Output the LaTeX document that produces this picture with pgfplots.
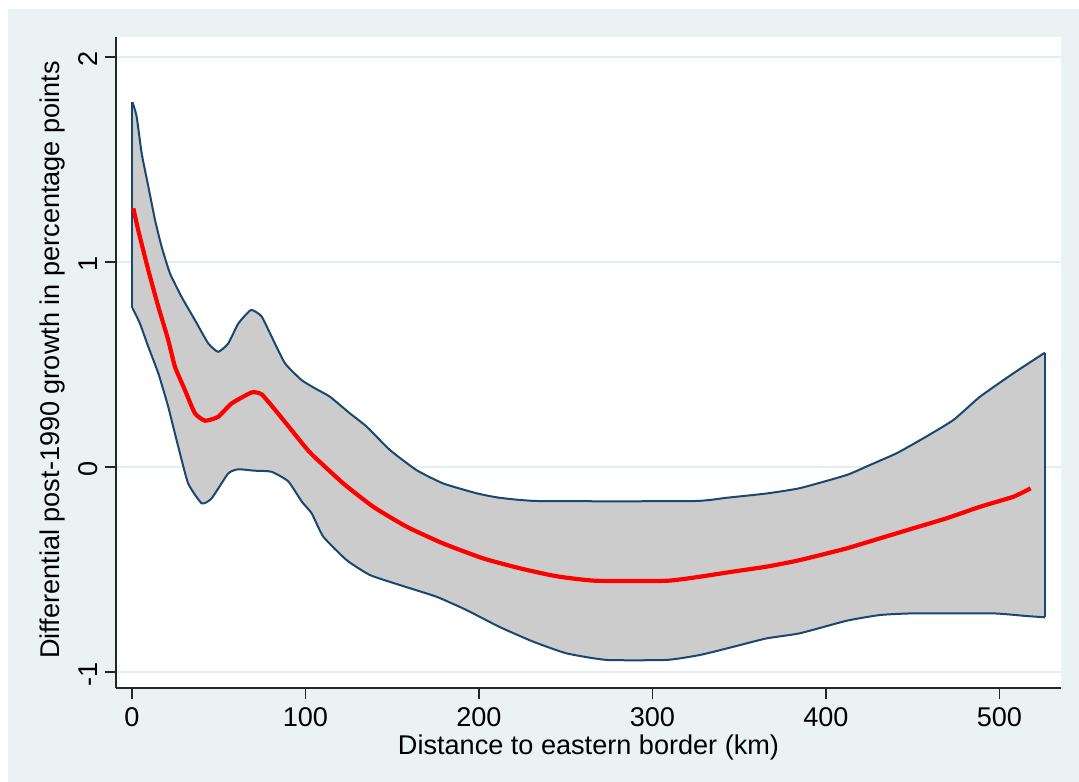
\documentclass[border=0pt]{standalone}
\usepackage{pgfplots}
\pgfplotsset{compat=1.18}
\usepackage{fontspec}
\setmainfont{Liberation Sans}
\usetikzlibrary{backgrounds}

\definecolor{statabg}{RGB}{234,242,243}
\definecolor{gridcol}{RGB}{228,238,240}
\definecolor{bandfill}{RGB}{204,204,204}
\definecolor{bandline}{RGB}{26,71,111}

\begin{document}
\begin{tikzpicture}
\begin{axis}[
    name=ax,
    scale only axis,
    width=472.5bp, height=325.5bp,
    xmin=-9.2, xmax=535.5,
    ymin=-1.078, ymax=2.098,
    xtick={0,100,200,300,400,500},
    ytick={-1,0,1,2},
    axis x line*=bottom,
    axis y line*=left,
    axis line style={black!85, line width=0.9bp},
    tick align=outside,
    major tick length=5.5bp,
    tick style={black!85, line width=0.8bp},
    ymajorgrids=true,
    grid style={gridcol, line width=0.8bp},
    axis background/.style={fill=white},
    /pgf/number format/assume math mode=true,
    font=\fontsize{13.6}{16}\selectfont,
    ticklabel style={font=\fontsize{13.6}{16}\selectfont},
    yticklabel style={rotate=90, anchor=south, xshift=-1bp},
    xticklabel style={yshift=-1bp},
    xlabel={Distance to eastern border (km)},
    ylabel={Differential post-1990 growth in percentage points},
    xlabel style={at={(axis description cs:0.5,-0.0906)}, anchor=center},
    ylabel style={at={(axis description cs:-0.0677,0.504)}, anchor=center},
]

% confidence band: upper bound left to right, lower bound right to left
\addplot[fill=bandfill, draw=none] coordinates {
    (0.3,1.78) (2.7,1.71) (5.6,1.53) (9.4,1.37) (13.3,1.205) (17.1,1.075)
    (21.9,0.945) (28.6,0.83) (36.3,0.717) (44.0,0.603) (49.7,0.562)
    (55.5,0.603) (61.3,0.70) (68.6,0.766) (74.7,0.735) (80.5,0.636)
    (88.2,0.506) (97.8,0.424) (105.5,0.384) (114.1,0.343) (125.6,0.262)
    (135.3,0.197) (148.7,0.083) (164,-0.015) (179.4,-0.08) (198.6,-0.128)
    (212,-0.15) (235,-0.166) (323.5,-0.166) (342.7,-0.15) (365.8,-0.129)
    (385,-0.103) (411.9,-0.039) (425.4,0.01) (440.7,0.067) (456.1,0.14)
    (473.4,0.229) (488.8,0.343) (508,0.457) (526.2,0.558)
    (526.2,-0.733) (515.7,-0.727) (496.4,-0.714) (450.3,-0.714)
    (431.1,-0.722) (411.9,-0.75) (385,-0.811) (365.8,-0.836) (346.6,-0.877)
    (327.4,-0.917) (308.2,-0.941) (273.6,-0.941) (250.5,-0.909)
    (231.3,-0.852) (212.1,-0.781) (192.9,-0.698) (175.6,-0.633)
    (154.5,-0.576) (137.2,-0.527) (123.7,-0.454) (110.3,-0.34)
    (103.6,-0.226) (98,-0.17) (90.1,-0.07) (80.5,-0.023) (70.9,-0.018)
    (61.3,-0.011) (55.5,-0.031) (45.9,-0.153) (40.2,-0.177) (32.4,-0.08)
    (26.7,0.099) (20.9,0.294) (15.2,0.457) (9.4,0.587) (4.6,0.70) (0.3,0.776)
} -- cycle;

% band outline: upper bound
\addplot[bandline, line width=1bp, smooth, tension=0.3] coordinates {
    (0.3,1.78) (2.7,1.71) (5.6,1.53) (9.4,1.37) (13.3,1.205) (17.1,1.075)
    (21.9,0.945) (28.6,0.83) (36.3,0.717) (44.0,0.603) (49.7,0.562)
    (55.5,0.603) (61.3,0.70) (68.6,0.766) (74.7,0.735) (80.5,0.636)
    (88.2,0.506) (97.8,0.424) (105.5,0.384) (114.1,0.343) (125.6,0.262)
    (135.3,0.197) (148.7,0.083) (164,-0.015) (179.4,-0.08) (198.6,-0.128)
    (212,-0.15) (235,-0.166) (323.5,-0.166) (342.7,-0.15) (365.8,-0.129)
    (385,-0.103) (411.9,-0.039) (425.4,0.01) (440.7,0.067) (456.1,0.14)
    (473.4,0.229) (488.8,0.343) (508,0.457) (526.2,0.558)
};
% band outline: lower bound
\addplot[bandline, line width=1bp, smooth, tension=0.3] coordinates {
    (0.3,0.776) (4.6,0.70) (9.4,0.587) (15.2,0.457) (20.9,0.294) (26.7,0.099)
    (32.4,-0.08) (40.2,-0.177) (45.9,-0.153) (55.5,-0.031) (61.3,-0.011)
    (70.9,-0.018) (80.5,-0.023) (90.1,-0.07) (98,-0.17) (103.6,-0.226)
    (110.3,-0.34) (123.7,-0.454) (137.2,-0.527) (154.5,-0.576)
    (175.6,-0.633) (192.9,-0.698) (212.1,-0.781) (231.3,-0.852)
    (250.5,-0.909) (273.6,-0.941) (308.2,-0.941) (327.4,-0.917)
    (346.6,-0.877) (365.8,-0.836) (385,-0.811) (411.9,-0.75) (431.1,-0.722)
    (450.3,-0.714) (496.4,-0.714) (515.7,-0.727) (526.2,-0.733)
};
% band outline: end edges
\addplot[bandline, line width=1bp] coordinates {(0.3,1.78) (0.3,0.776)};
\addplot[bandline, line width=1bp] coordinates {(526.2,0.558) (526.2,-0.733)};

% fitted line
\addplot[red, line width=2.1bp, smooth, tension=0.3] coordinates {
    (0.8,1.262) (3.6,1.156) (9.4,0.961) (15.2,0.782) (20.9,0.62) (24.8,0.489)
    (30.5,0.376) (36.3,0.262) (42.1,0.226) (49.7,0.245) (57.4,0.31)
    (69,0.364) (74.7,0.355) (82.4,0.28) (92,0.18) (99.7,0.099) (104.5,0.055)
    (121.8,-0.08) (139.1,-0.194) (158.3,-0.291) (179.4,-0.373)
    (202.5,-0.446) (223.6,-0.494) (241,-0.527) (250.5,-0.54) (267.8,-0.555)
    (308.2,-0.555) (327.4,-0.535) (346.6,-0.51) (365.8,-0.486) (385,-0.454)
    (411.9,-0.397) (431.1,-0.348) (450.3,-0.299) (469.6,-0.25)
    (488.8,-0.194) (508,-0.145) (518,-0.104)
};
\end{axis}
\begin{scope}[on background layer]
\fill[statabg] ([xshift=-54bp,yshift=-47bp]ax.south west) rectangle ([xshift=481.5bp,yshift=339.5bp]ax.south west);
\end{scope}
\pgfresetboundingbox
\path[use as bounding box] ([xshift=-58bp,yshift=-47bp]ax.south west) rectangle ([xshift=481.5bp,yshift=344bp]ax.south west);
\end{tikzpicture}
\end{document}
